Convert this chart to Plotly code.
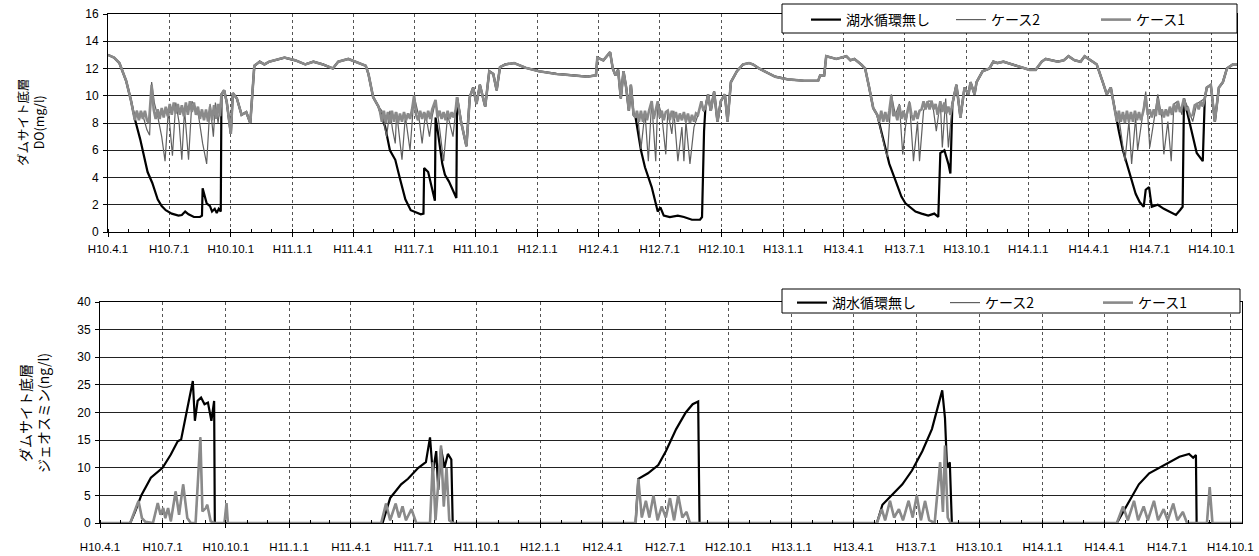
import plotly.graph_objects as go

W, H = 1259, 556

# ---------------- tick labels ----------------
TICK_DATES = ["1998-04-01", "1998-07-01", "1998-10-01", "1999-01-01", "1999-04-01", "1999-07-01",
              "1999-10-01", "2000-01-01", "2000-04-01", "2000-07-01", "2000-10-01", "2001-01-01",
              "2001-04-01", "2001-07-01", "2001-10-01", "2002-01-01", "2002-04-01", "2002-07-01",
              "2002-10-01"]
TICK_TEXT = ["H10.4.1", "H10.7.1", "H10.10.1", "H11.1.1", "H11.4.1", "H11.7.1", "H11.10.1", "H12.1.1",
             "H12.4.1", "H12.7.1", "H12.10.1", "H13.1.1", "H13.4.1", "H13.7.1", "H13.10.1", "H14.1.1",
             "H14.4.1", "H14.7.1", "H14.10.1"]
SERIES = ["湖水循環無し", "ケース2", "ケース1"]

# ---------------- DO (mg/l): periods shared by all three series ----------------
DO_COMMON_A = [("1998-04-01", 13.0), ("1998-04-10", 12.8), ("1998-04-18", 12.4), ("1998-04-28", 11.1),
               ("1998-05-05", 9.7)]
DO_COMMON_B = [("1998-09-17", 10.1), ("1998-09-21", 10.4), ("1998-09-25", 9.5), ("1998-10-01", 7.2),
               ("1998-10-04", 10.2), ("1998-10-10", 9.8), ("1998-10-17", 8.6), ("1998-10-24", 8.8),
               ("1998-10-30", 8.0), ("1998-11-05", 12.2), ("1998-11-13", 12.5), ("1998-11-20", 12.3),
               ("1998-11-27", 12.5), ("1998-12-05", 12.6), ("1998-12-20", 12.8), ("1999-01-05", 12.6),
               ("1999-01-20", 12.3), ("1999-02-01", 12.5), ("1999-02-15", 12.3), ("1999-03-02", 12.0),
               ("1999-03-10", 12.5), ("1999-03-25", 12.7), ("1999-04-10", 12.4), ("1999-04-20", 12.2),
               ("1999-04-24", 11.6), ("1999-05-01", 9.9), ("1999-05-09", 9.2)]
DO_COMMON_C = [("1999-09-03", 9.9), ("1999-09-09", 8.1), ("1999-09-17", 6.3), ("1999-09-22", 9.9),
               ("1999-09-27", 10.6), ("1999-10-02", 9.4), ("1999-10-07", 10.8), ("1999-10-15", 9.2),
               ("1999-10-21", 11.8), ("1999-10-27", 11.6), ("1999-11-01", 10.4), ("1999-11-06", 12.1),
               ("1999-11-14", 12.3), ("1999-11-27", 12.4), ("1999-12-14", 12.05), ("2000-01-03", 11.8),
               ("2000-01-29", 11.6), ("2000-02-20", 11.5), ("2000-03-15", 11.4), ("2000-03-28", 11.5),
               ("2000-03-30", 12.8), ("2000-04-08", 12.6), ("2000-04-18", 13.2), ("2000-04-22", 12.0),
               ("2000-04-26", 11.5), ("2000-04-30", 11.9), ("2000-05-04", 9.8), ("2000-05-08", 11.8),
               ("2000-05-12", 10.6), ("2000-05-16", 8.9), ("2000-05-19", 10.8), ("2000-05-23", 8.6)]
DO_COMMON_D = [("2000-09-07", 9.1), ("2000-09-11", 10.1), ("2000-09-15", 8.9), ("2000-09-20", 10.3),
               ("2000-09-25", 8.1), ("2000-09-30", 9.6), ("2000-10-06", 10.1), ("2000-10-10", 8.1),
               ("2000-10-15", 11.0), ("2000-10-24", 11.8), ("2000-11-02", 12.3), ("2000-11-11", 12.4),
               ("2000-11-17", 12.3), ("2000-11-26", 12.0), ("2000-12-08", 11.7), ("2000-12-20", 11.4),
               ("2001-01-08", 11.2), ("2001-02-01", 11.1), ("2001-02-22", 11.1), ("2001-02-25", 11.5),
               ("2001-03-03", 11.5), ("2001-03-06", 12.9), ("2001-03-21", 12.7), ("2001-04-05", 12.9),
               ("2001-04-11", 12.6), ("2001-04-17", 12.7), ("2001-04-27", 12.3), ("2001-05-03", 12.0),
               ("2001-05-09", 10.6), ("2001-05-15", 9.1), ("2001-05-21", 8.6)]
DO_COMMON_E = [("2001-09-10", 9.4), ("2001-09-16", 10.8), ("2001-09-22", 8.4), ("2001-09-28", 10.6),
               ("2001-10-04", 10.1), ("2001-10-07", 11.0), ("2001-10-13", 10.1), ("2001-10-16", 11.0),
               ("2001-10-25", 11.8), ("2001-11-04", 12.0), ("2001-11-10", 12.5), ("2001-11-16", 12.4),
               ("2001-11-25", 12.5), ("2001-12-07", 12.3), ("2001-12-19", 12.1), ("2002-01-03", 11.9),
               ("2002-01-12", 11.9), ("2002-01-21", 12.5), ("2002-01-27", 12.7), ("2002-02-05", 12.6),
               ("2002-02-14", 12.5), ("2002-02-23", 12.6), ("2002-03-02", 12.9), ("2002-03-11", 12.6),
               ("2002-03-20", 12.5), ("2002-03-26", 12.9), ("2002-04-04", 12.6), ("2002-04-13", 12.3),
               ("2002-04-22", 11.0), ("2002-04-28", 10.1), ("2002-05-04", 10.6), ("2002-05-10", 8.9)]
DO_COMMON_F = [("2002-09-21", 9.8), ("2002-09-24", 10.6), ("2002-09-30", 10.8), ("2002-10-06", 8.1),
               ("2002-10-12", 10.6), ("2002-10-18", 11.0), ("2002-10-24", 12.0), ("2002-11-02", 12.3),
               ("2002-11-08", 12.3)]

# ---------------- DO: 湖水循環無し, summer periods ----------------
DO_NONE_98 = [("1998-05-11", 8.3), ("1998-05-19", 6.8), ("1998-05-25", 5.6), ("1998-05-30", 4.4),
              ("1998-06-06", 3.6), ("1998-06-14", 2.4), ("1998-06-20", 1.9), ("1998-06-26", 1.6),
              ("1998-07-05", 1.35), ("1998-07-15", 1.2), ("1998-07-20", 1.25), ("1998-07-25", 1.5),
              ("1998-07-30", 1.3), ("1998-08-07", 1.1), ("1998-08-16", 1.1), ("1998-08-19", 1.2),
              ("1998-08-20", 3.2), ("1998-08-26", 2.1), ("1998-08-31", 1.9), ("1998-09-03", 1.5),
              ("1998-09-07", 1.7), ("1998-09-10", 1.4), ("1998-09-13", 1.7), ("1998-09-16", 1.5)]
DO_NONE_99 = [("1999-05-14", 8.5), ("1999-05-19", 7.7), ("1999-05-26", 6.0), ("1999-06-03", 5.3),
              ("1999-06-10", 3.9), ("1999-06-18", 2.4), ("1999-06-26", 1.6), ("1999-07-04", 1.45),
              ("1999-07-11", 1.3), ("1999-07-15", 1.35), ("1999-07-16", 4.7), ("1999-07-22", 4.4),
              ("1999-07-29", 3.0), ("1999-08-01", 2.3), ("1999-08-02", 8.4), ("1999-08-05", 7.5),
              ("1999-08-12", 5.0), ("1999-08-16", 4.2), ("1999-08-22", 3.7), ("1999-08-28", 3.0),
              ("1999-09-02", 2.5)]
DO_NONE_00 = [("2000-05-26", 8.4), ("2000-06-03", 6.0), ("2000-06-09", 4.75), ("2000-06-19", 3.3),
              ("2000-06-25", 2.0), ("2000-06-28", 1.5), ("2000-07-02", 1.8), ("2000-07-07", 1.2),
              ("2000-07-16", 1.1), ("2000-07-28", 1.2), ("2000-08-06", 1.1), ("2000-08-18", 0.9),
              ("2000-08-30", 0.9), ("2000-09-02", 1.1), ("2000-09-05", 7.4)]
DO_NONE_01 = [("2001-05-27", 7.4), ("2001-06-02", 6.0), ("2001-06-08", 5.0), ("2001-06-17", 3.8),
              ("2001-06-26", 2.6), ("2001-07-02", 2.1), ("2001-07-08", 1.85), ("2001-07-17", 1.5),
              ("2001-07-26", 1.35), ("2001-08-05", 1.2), ("2001-08-14", 1.35), ("2001-08-20", 1.1),
              ("2001-08-23", 5.8), ("2001-08-29", 6.0), ("2001-09-04", 5.0), ("2001-09-07", 4.3)]
DO_NONE_02 = [("2002-05-16", 7.4), ("2002-05-22", 6.0), ("2002-05-29", 4.75), ("2002-06-04", 3.8),
              ("2002-06-10", 2.8), ("2002-06-16", 2.2), ("2002-06-22", 1.85), ("2002-06-25", 3.1),
              ("2002-06-30", 3.3), ("2002-07-04", 1.85), ("2002-07-13", 2.0), ("2002-07-22", 1.7),
              ("2002-07-31", 1.5), ("2002-08-09", 1.25), ("2002-08-15", 1.6), ("2002-08-19", 1.85),
              ("2002-08-21", 9.8), ("2002-08-27", 8.6), ("2002-09-03", 7.0), ("2002-09-09", 5.8),
              ("2002-09-18", 5.2)]

# ---------------- DO: ケース2, summer periods ----------------
DO_C2_98 = [("1998-05-08", 8.8), ("1998-05-11", 8.5), ("1998-05-14", 8.9), ("1998-05-18", 8.3),
            ("1998-05-21", 8.8), ("1998-05-25", 8.2), ("1998-05-29", 7.5), ("1998-06-02", 7.1),
            ("1998-06-05", 11.0), ("1998-06-09", 9.5), ("1998-06-14", 8.5), ("1998-06-20", 7.0),
            ("1998-06-25", 5.2), ("1998-06-30", 9.0), ("1998-07-06", 5.6), ("1998-07-11", 9.5),
            ("1998-07-16", 8.0), ("1998-07-20", 5.3), ("1998-07-24", 9.0), ("1998-07-30", 5.3),
            ("1998-08-04", 9.6), ("1998-08-09", 9.2), ("1998-08-14", 8.5), ("1998-08-20", 6.5),
            ("1998-08-26", 5.0), ("1998-08-31", 9.4), ("1998-09-05", 7.0), ("1998-09-08", 9.5),
            ("1998-09-12", 8.0)]
DO_C2_99 = [("1999-05-14", 8.9), ("1999-05-21", 7.0), ("1999-05-26", 8.9), ("1999-05-30", 7.5),
            ("1999-06-03", 6.5), ("1999-06-05", 8.8), ("1999-06-09", 7.0), ("1999-06-13", 5.3),
            ("1999-06-18", 8.5), ("1999-06-25", 6.0), ("1999-07-01", 10.0), ("1999-07-08", 8.5),
            ("1999-07-13", 6.5), ("1999-07-18", 8.7), ("1999-07-24", 7.0), ("1999-07-28", 8.5),
            ("1999-08-02", 9.6), ("1999-08-07", 8.0), ("1999-08-14", 5.2), ("1999-08-20", 8.6),
            ("1999-08-28", 7.0)]
DO_C2_00 = [("2000-05-26", 8.4), ("2000-05-29", 8.6), ("2000-06-03", 6.1), ("2000-06-09", 8.8),
            ("2000-06-14", 5.2), ("2000-06-19", 9.6), ("2000-06-25", 5.2), ("2000-06-28", 9.6),
            ("2000-07-04", 8.6), ("2000-07-10", 5.7), ("2000-07-13", 8.9), ("2000-07-19", 7.2),
            ("2000-07-22", 8.9), ("2000-07-28", 5.2), ("2000-08-03", 7.7), ("2000-08-06", 5.2),
            ("2000-08-09", 8.1), ("2000-08-15", 5.0), ("2000-08-21", 7.7), ("2000-08-27", 8.6),
            ("2000-09-01", 9.6), ("2000-09-05", 8.8)]
DO_C2_01 = [("2001-05-27", 7.2), ("2001-06-02", 6.0), ("2001-06-05", 5.5), ("2001-06-11", 10.1),
            ("2001-06-17", 8.6), ("2001-06-23", 9.4), ("2001-06-28", 5.7), ("2001-07-02", 7.7),
            ("2001-07-08", 9.6), ("2001-07-14", 5.2), ("2001-07-20", 8.1), ("2001-07-23", 5.2),
            ("2001-07-29", 8.9), ("2001-08-05", 9.6), ("2001-08-11", 9.6), ("2001-08-17", 7.4),
            ("2001-08-23", 9.6), ("2001-08-26", 6.2), ("2001-08-31", 9.8), ("2001-09-04", 6.2)]
DO_C2_02 = [("2002-05-16", 8.4), ("2002-05-22", 6.2), ("2002-05-25", 5.2), ("2002-05-31", 8.1),
            ("2002-06-04", 5.0), ("2002-06-10", 8.4), ("2002-06-13", 6.0), ("2002-06-19", 8.1),
            ("2002-06-25", 10.3), ("2002-06-28", 8.6), ("2002-07-01", 6.2), ("2002-07-07", 8.1),
            ("2002-07-13", 10.1), ("2002-07-19", 8.4), ("2002-07-22", 5.7), ("2002-07-28", 8.1),
            ("2002-08-02", 5.2), ("2002-08-06", 9.4), ("2002-08-12", 9.6), ("2002-08-18", 8.6),
            ("2002-08-21", 9.8), ("2002-08-27", 9.1), ("2002-09-03", 8.1), ("2002-09-09", 9.4),
            ("2002-09-15", 9.6)]

# ---------------- DO: ケース1, summer periods ----------------
DO_C1_98 = [("1998-05-08", 8.8), ("1998-05-11", 8.2), ("1998-05-14", 8.9), ("1998-05-17", 8.2),
            ("1998-05-20", 8.9), ("1998-05-23", 8.3), ("1998-05-26", 8.9), ("1998-05-29", 8.2),
            ("1998-06-01", 8.0), ("1998-06-05", 10.8), ("1998-06-08", 9.0), ("1998-06-11", 8.3),
            ("1998-06-14", 9.0), ("1998-06-17", 8.3), ("1998-06-20", 9.1), ("1998-06-23", 8.4),
            ("1998-06-26", 9.2), ("1998-06-29", 8.5), ("1998-07-02", 9.4), ("1998-07-05", 8.6),
            ("1998-07-08", 9.5), ("1998-07-11", 8.7), ("1998-07-14", 9.4), ("1998-07-17", 8.6),
            ("1998-07-20", 9.3), ("1998-07-23", 8.5), ("1998-07-26", 9.5), ("1998-07-29", 8.6),
            ("1998-08-01", 9.6), ("1998-08-04", 8.8), ("1998-08-07", 9.5), ("1998-08-10", 8.6),
            ("1998-08-13", 9.2), ("1998-08-16", 8.3), ("1998-08-19", 9.0), ("1998-08-22", 8.2),
            ("1998-08-25", 9.0), ("1998-08-28", 8.1), ("1998-08-31", 9.2), ("1998-09-03", 8.2),
            ("1998-09-06", 9.3), ("1998-09-09", 8.3), ("1998-09-12", 9.4), ("1998-09-15", 8.5)]
DO_C1_99 = [("1999-05-11", 8.9), ("1999-05-14", 8.1), ("1999-05-17", 8.9), ("1999-05-20", 8.0),
            ("1999-05-23", 8.8), ("1999-05-26", 8.0), ("1999-05-29", 8.9), ("1999-06-01", 8.1),
            ("1999-06-04", 8.8), ("1999-06-07", 8.0), ("1999-06-10", 8.7), ("1999-06-13", 8.1),
            ("1999-06-16", 8.8), ("1999-06-19", 8.2), ("1999-06-22", 8.7), ("1999-06-25", 8.3),
            ("1999-06-28", 9.0), ("1999-07-01", 10.0), ("1999-07-04", 8.6), ("1999-07-07", 8.2),
            ("1999-07-10", 8.9), ("1999-07-13", 8.3), ("1999-07-16", 8.8), ("1999-07-19", 8.2),
            ("1999-07-22", 8.9), ("1999-07-25", 8.3), ("1999-07-28", 9.0), ("1999-08-02", 9.7),
            ("1999-08-05", 8.4), ("1999-08-08", 8.9), ("1999-08-11", 8.3), ("1999-08-14", 8.8),
            ("1999-08-17", 8.2), ("1999-08-20", 8.9), ("1999-08-23", 8.3), ("1999-08-26", 8.8),
            ("1999-08-29", 8.4), ("1999-09-01", 9.0)]
DO_C1_00 = [("2000-05-26", 8.4), ("2000-05-28", 8.9), ("2000-05-31", 8.1), ("2000-06-03", 8.9),
            ("2000-06-06", 8.1), ("2000-06-09", 8.9), ("2000-06-12", 8.2), ("2000-06-15", 8.9),
            ("2000-06-19", 9.6), ("2000-06-22", 8.3), ("2000-06-25", 8.9), ("2000-06-28", 9.6),
            ("2000-07-01", 8.4), ("2000-07-04", 8.9), ("2000-07-07", 8.2), ("2000-07-10", 8.8),
            ("2000-07-13", 8.9), ("2000-07-16", 8.2), ("2000-07-19", 8.9), ("2000-07-22", 8.3),
            ("2000-07-25", 8.8), ("2000-07-28", 8.1), ("2000-07-31", 8.7), ("2000-08-03", 8.2),
            ("2000-08-06", 8.8), ("2000-08-09", 8.1), ("2000-08-12", 8.7), ("2000-08-15", 8.0),
            ("2000-08-18", 8.6), ("2000-08-21", 8.1), ("2000-08-24", 8.7), ("2000-08-27", 8.6),
            ("2000-09-01", 9.6), ("2000-09-04", 8.9)]
DO_C1_01 = [("2001-05-24", 8.1), ("2001-05-27", 8.9), ("2001-05-30", 8.1), ("2001-06-02", 8.8),
            ("2001-06-05", 8.1), ("2001-06-08", 8.9), ("2001-06-11", 10.0), ("2001-06-14", 8.5),
            ("2001-06-17", 8.8), ("2001-06-20", 8.2), ("2001-06-23", 9.3), ("2001-06-26", 8.3),
            ("2001-06-29", 8.9), ("2001-07-02", 8.2), ("2001-07-05", 8.9), ("2001-07-08", 9.5),
            ("2001-07-11", 8.6), ("2001-07-14", 8.2), ("2001-07-17", 8.9), ("2001-07-20", 8.3),
            ("2001-07-23", 8.9), ("2001-07-26", 9.0), ("2001-07-29", 9.6), ("2001-08-01", 9.0),
            ("2001-08-04", 9.6), ("2001-08-07", 9.0), ("2001-08-10", 9.6), ("2001-08-13", 9.0),
            ("2001-08-16", 9.4), ("2001-08-19", 8.6), ("2001-08-23", 9.6), ("2001-08-26", 8.8),
            ("2001-08-29", 9.5), ("2001-09-01", 8.7), ("2001-09-04", 9.2), ("2001-09-07", 8.6)]
DO_C1_02 = [("2002-05-13", 8.1), ("2002-05-16", 8.9), ("2002-05-19", 8.1), ("2002-05-22", 8.8),
            ("2002-05-25", 8.0), ("2002-05-28", 8.9), ("2002-05-31", 8.1), ("2002-06-03", 8.8),
            ("2002-06-06", 8.1), ("2002-06-09", 8.9), ("2002-06-12", 8.2), ("2002-06-15", 8.8),
            ("2002-06-18", 8.2), ("2002-06-22", 9.0), ("2002-06-25", 10.0), ("2002-06-28", 8.6),
            ("2002-07-01", 9.0), ("2002-07-04", 8.4), ("2002-07-07", 9.0), ("2002-07-10", 8.5),
            ("2002-07-13", 9.8), ("2002-07-16", 8.6), ("2002-07-19", 9.0), ("2002-07-22", 8.4),
            ("2002-07-25", 9.0), ("2002-07-28", 8.5), ("2002-07-31", 9.2), ("2002-08-03", 8.6),
            ("2002-08-06", 9.4), ("2002-08-09", 8.8), ("2002-08-12", 9.6), ("2002-08-15", 8.8),
            ("2002-08-18", 9.2), ("2002-08-21", 9.8), ("2002-08-24", 9.0), ("2002-08-27", 9.1),
            ("2002-08-30", 8.5), ("2002-09-03", 8.6), ("2002-09-06", 9.3), ("2002-09-09", 9.4),
            ("2002-09-12", 9.0), ("2002-09-15", 9.6), ("2002-09-18", 9.2)]

# ---------------- geosmin (ng/l) ----------------
GEO_NONE = [("1998-04-01", 0), ("1998-05-15", 0), ("1998-05-22", 2.0), ("1998-05-28", 4.0), ("1998-05-31", 5.0),
            ("1998-06-14", 8.2), ("1998-07-01", 10.0), ("1998-07-13", 12.4), ("1998-07-23", 14.8),
            ("1998-07-28", 15.1), ("1998-08-14", 25.7), ("1998-08-17", 18.5), ("1998-08-21", 22.1),
            ("1998-08-26", 22.7), ("1998-08-31", 21.5), ("1998-09-05", 21.8), ("1998-09-10", 18.5),
            ("1998-09-14", 22.1), ("1998-09-15", 0),
            ("1999-05-17", 0), ("1999-05-28", 4.5), ("1999-06-13", 7.0), ("1999-06-23", 8.0),
            ("1999-07-08", 10.0), ("1999-07-19", 11.0), ("1999-07-25", 15.5), ("1999-07-29", 9.0),
            ("1999-08-03", 13.0), ("1999-08-06", 6.0), ("1999-08-10", 13.5), ("1999-08-15", 10.0),
            ("1999-08-20", 12.5), ("1999-08-25", 11.5), ("1999-08-27", 0),
            ("2000-05-19", 0), ("2000-05-23", 8.0), ("2000-06-06", 9.0), ("2000-06-21", 10.5),
            ("2000-07-02", 13.0), ("2000-07-17", 17.0), ("2000-07-31", 20.0), ("2000-08-10", 21.5),
            ("2000-08-18", 22.0), ("2000-08-20", 0),
            ("2001-05-05", 0), ("2001-05-13", 3.3), ("2001-05-27", 5.0), ("2001-06-11", 7.0),
            ("2001-06-25", 9.5), ("2001-07-10", 13.0), ("2001-07-24", 17.0), ("2001-08-03", 22.0),
            ("2001-08-08", 24.0), ("2001-08-12", 19.0), ("2001-08-15", 10.0), ("2001-08-19", 11.0),
            ("2001-08-22", 0),
            ("2002-04-19", 0), ("2002-05-07", 4.0), ("2002-05-21", 7.0), ("2002-06-05", 9.0),
            ("2002-06-20", 10.0), ("2002-07-04", 11.0), ("2002-07-19", 12.0), ("2002-08-02", 12.5),
            ("2002-08-08", 11.8), ("2002-08-12", 12.3), ("2002-08-13", 0), ("2002-10-18", 0)]
GEO_CASES = [("1998-04-01", 0), ("1998-05-15", 0), ("1998-05-27", 4.0), ("1998-06-01", 0.9), ("1998-06-06", 0.2),
             ("1998-06-17", 0), ("1998-06-24", 3.6), ("1998-06-28", 1.5), ("1998-07-02", 2.7),
             ("1998-07-05", 0.9), ("1998-07-09", 2.7), ("1998-07-13", 0.3), ("1998-07-20", 5.7),
             ("1998-07-25", 1.5), ("1998-07-31", 7.0), ("1998-08-06", 0.9), ("1998-08-11", 0),
             ("1998-08-18", 0), ("1998-08-25", 15.5), ("1998-08-28", 2.1), ("1998-09-02", 2.7),
             ("1998-09-04", 3.3), ("1998-09-09", 0.3), ("1998-09-15", 0), ("1998-09-29", 0),
             ("1998-10-02", 3.6), ("1998-10-04", 0),
             ("1999-05-15", 0), ("1999-05-22", 3.5), ("1999-05-28", 0.5), ("1999-06-05", 3.5),
             ("1999-06-10", 1.0), ("1999-06-15", 3.0), ("1999-06-20", 0.5), ("1999-06-28", 2.5),
             ("1999-07-05", 0), ("1999-07-25", 0), ("1999-07-29", 11.0), ("1999-08-02", 0.5),
             ("1999-08-10", 14.0), ("1999-08-14", 3.0), ("1999-08-18", 10.0), ("1999-08-22", 0.5),
             ("1999-08-27", 0),
             ("2000-05-19", 0), ("2000-05-23", 8.0), ("2000-05-28", 1.0), ("2000-06-03", 4.0),
             ("2000-06-08", 1.0), ("2000-06-14", 5.0), ("2000-06-20", 0.5), ("2000-06-26", 3.0),
             ("2000-07-02", 1.0), ("2000-07-08", 4.5), ("2000-07-14", 0.5), ("2000-07-20", 5.0),
             ("2000-07-26", 1.0), ("2000-08-01", 2.0), ("2000-08-06", 0),
             ("2001-05-05", 0), ("2001-05-12", 2.5), ("2001-05-17", 0.5), ("2001-05-24", 4.0),
             ("2001-05-30", 1.0), ("2001-06-06", 2.5), ("2001-06-12", 0.5), ("2001-06-20", 4.0),
             ("2001-06-26", 1.0), ("2001-07-02", 5.0), ("2001-07-08", 0.5), ("2001-07-14", 4.0),
             ("2001-07-20", 0.5), ("2001-07-28", 0), ("2001-08-05", 11.0), ("2001-08-09", 2.0),
             ("2001-08-12", 14.0), ("2001-08-16", 1.0), ("2001-08-20", 0),
             ("2002-04-19", 0), ("2002-04-28", 3.0), ("2002-05-05", 0.5), ("2002-05-14", 4.0),
             ("2002-05-20", 0.5), ("2002-05-28", 3.0), ("2002-06-03", 0.5), ("2002-06-12", 4.0),
             ("2002-06-18", 0.5), ("2002-06-26", 2.5), ("2002-07-02", 0.5), ("2002-07-10", 3.5),
             ("2002-07-16", 0.5), ("2002-07-24", 2.0), ("2002-07-30", 0), ("2002-08-28", 0),
             ("2002-09-01", 6.5), ("2002-09-05", 0), ("2002-10-18", 0)]


def join(*segments):
    xs, ys = [], []
    for seg in segments:
        for d, v in seg:
            xs.append(d)
            ys.append(v)
    return xs, ys


do_none = join(DO_COMMON_A, DO_NONE_98, DO_COMMON_B, DO_NONE_99, DO_COMMON_C, DO_NONE_00,
               DO_COMMON_D, DO_NONE_01, DO_COMMON_E, DO_NONE_02, DO_COMMON_F)
do_c2 = join(DO_COMMON_A, DO_C2_98, DO_COMMON_B, DO_C2_99, DO_COMMON_C, DO_C2_00,
             DO_COMMON_D, DO_C2_01, DO_COMMON_E, DO_C2_02, DO_COMMON_F)
do_c1 = join(DO_COMMON_A, DO_C1_98, DO_COMMON_B, DO_C1_99, DO_COMMON_C, DO_C1_00,
             DO_COMMON_D, DO_C1_01, DO_COMMON_E, DO_C1_02, DO_COMMON_F)
geo_none = join(GEO_NONE)
geo_cases = join(GEO_CASES)

STYLE = [dict(color="#000000", width=2.2), dict(color="#606060", width=1.2), dict(color="#8a8a8a", width=2.6)]

fig = go.Figure()
for (xs, ys), name, st in zip([do_none, do_c2, do_c1], SERIES, STYLE):
    fig.add_trace(go.Scatter(x=xs, y=ys, mode="lines", name=name, line=st, xaxis="x", yaxis="y",
                             legend="legend"))
for (xs, ys), name, st in zip([geo_none, geo_cases, geo_cases], SERIES, STYLE):
    fig.add_trace(go.Scatter(x=xs, y=ys, mode="lines", name=name, line=st, xaxis="x2", yaxis="y2",
                             legend="legend2"))

TICKF = dict(family="Liberation Sans, Arial, sans-serif", size=11.5, color="#000")
JPF = "Noto Sans CJK JP, sans-serif"


def px_x(p):
    return p / W


def px_y(p):
    return 1 - p / H


xcommon = dict(type="date", tickmode="array", tickvals=TICK_DATES, ticktext=TICK_TEXT,
               showgrid=True, gridcolor="#555", griddash="dot", gridwidth=1,
               showline=True, linecolor="#000", linewidth=1, mirror=True,
               ticks="outside", ticklen=4, tickcolor="#000", tickfont=TICKF,
               minor=dict(ticks="inside", ticklen=3, tickcolor="#000", dtick="M1",
                          tick0="1998-04-01", showgrid=False),
               zeroline=False, automargin=False)
ycommon = dict(showgrid=True, gridcolor="#222", gridwidth=1, showline=True, linecolor="#000",
               linewidth=1, mirror=True, ticks="outside", ticklen=4, tickcolor="#000",
               tickfont=dict(family="Liberation Sans, Arial, sans-serif", size=12, color="#000"),
               zeroline=False, automargin=False)

fig.update_layout(
    width=W, height=H, margin=dict(l=0, r=0, t=0, b=0, autoexpand=False), autosize=False,
    paper_bgcolor="white", plot_bgcolor="white",
    xaxis=dict(xcommon, domain=[px_x(108), px_x(1237)], range=["1998-04-01", "2002-11-08"], anchor="y",
               ticklabelstandoff=2),
    yaxis=dict(ycommon, domain=[px_y(232), px_y(14)], range=[0, 16], dtick=2, anchor="x",
               ticklabelstandoff=2),
    xaxis2=dict(xcommon, domain=[px_x(100), px_x(1242)], range=["1998-04-01", "2002-10-18"], anchor="y2",
                ticklabelstandoff=9),
    yaxis2=dict(ycommon, domain=[px_y(523), px_y(302)], range=[0, 40], dtick=5, anchor="x2",
                ticklabelstandoff=2),
    legend=dict(orientation="h", x=px_x(806), y=px_y(4), xanchor="left", yanchor="top",
                bgcolor="rgba(0,0,0,0)", font=dict(family=JPF, size=14, color="#000"),
                entrywidth=100, itemwidth=30),
    legend2=dict(orientation="h", x=px_x(792), y=px_y(287), xanchor="left", yanchor="top",
                 bgcolor="rgba(0,0,0,0)", font=dict(family=JPF, size=14, color="#000"),
                 entrywidth=108, itemwidth=30),
    shapes=[
        dict(type="rect", xref="paper", yref="paper", x0=px_x(782), x1=px_x(1237), y0=px_y(33), y1=px_y(4),
             line=dict(color="#000", width=1), fillcolor="white", layer="above"),
        dict(type="rect", xref="paper", yref="paper", x0=px_x(782), x1=px_x(1240), y0=px_y(313), y1=px_y(289),
             line=dict(color="#000", width=1), fillcolor="white", layer="above"),
    ],
    annotations=[
        dict(text="ダムサイト底層<br>DO(mg/l)", textangle=-90, xref="paper", yref="paper",
             x=px_x(31), y=px_y(122), xanchor="center", yanchor="middle", showarrow=False,
             font=dict(family=JPF, size=12.5, color="#000")),
        dict(text="ダムサイト底層<br>ジェオスミン(ng/l)", textangle=-90, xref="paper", yref="paper",
             x=px_x(34), y=px_y(413), xanchor="center", yanchor="middle", showarrow=False,
             font=dict(family=JPF, size=14, color="#000")),
    ],
    showlegend=True,
)

fig.write_html("out.html", config={"displayModeBar": False},
               post_script="document.body.style.margin='0px';document.body.style.overflow='hidden';")
